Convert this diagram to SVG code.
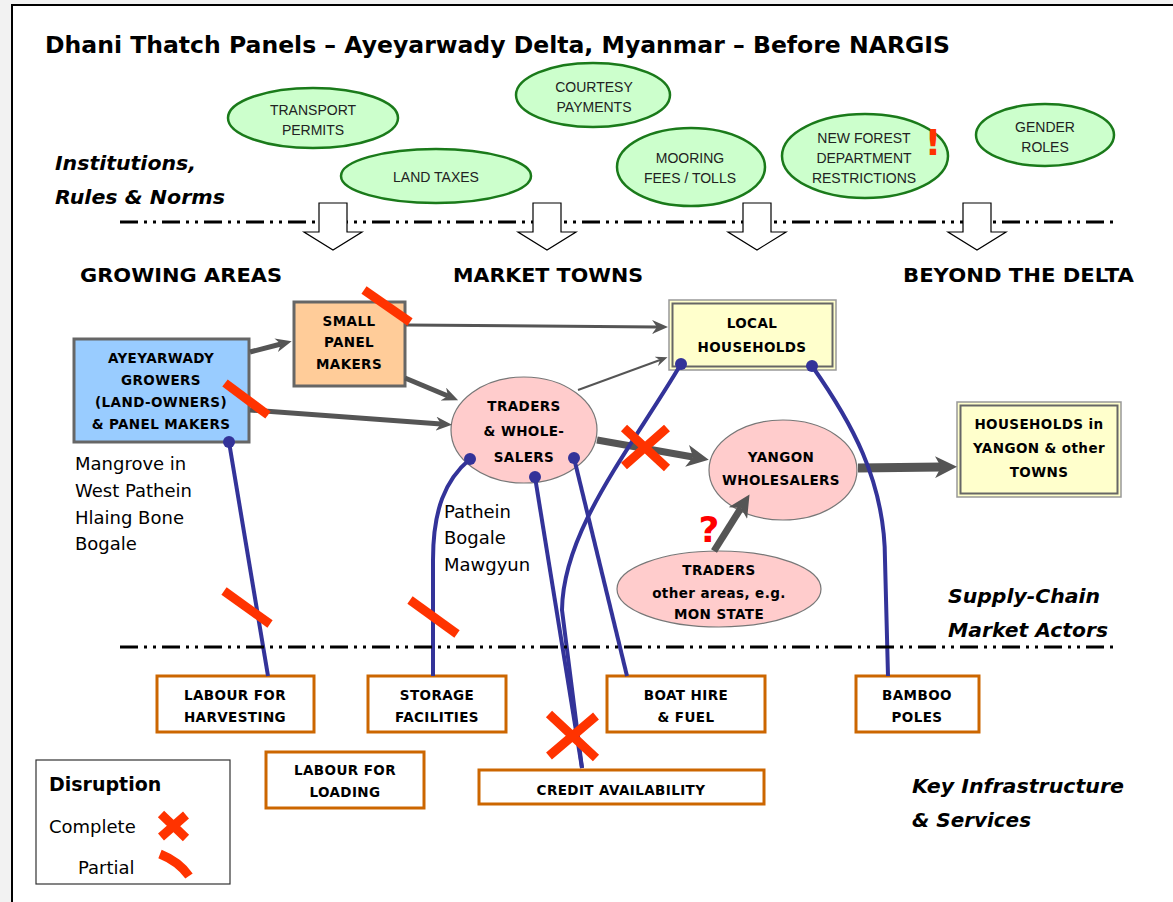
<svg xmlns="http://www.w3.org/2000/svg" width="1173" height="902" viewBox="0 0 1173 902">
<style>
.lbl{font-family:"DejaVu Sans",Verdana,sans-serif;font-weight:bold;font-size:13.5px;letter-spacing:0.4px;fill:#000;text-anchor:middle}
.glbl{font-family:"Liberation Sans",Arial,sans-serif;font-size:14px;fill:#222;text-anchor:middle}
.inst{fill:#ccffcc;stroke:#1a7a1a;stroke-width:2.5}
.hdr{font-family:"DejaVu Sans",Verdana,sans-serif;font-weight:bold;font-size:19px;fill:#000}
.sec{font-family:"DejaVu Sans",Verdana,sans-serif;font-weight:bold;font-style:italic;font-size:19px;fill:#000}
.place{font-family:"DejaVu Sans",Verdana,sans-serif;font-size:18px;fill:#000}
.dd{stroke:#000;stroke-width:3;fill:none;stroke-dasharray:18 6 3 6 3 6}
.harrow{fill:#fff;stroke:#000;stroke-width:1.2}
.svc{fill:#fff;stroke:#cc6600;stroke-width:3}
.flow{stroke:#555;fill:none}
.link{stroke:#333399;stroke-width:4;fill:none}
.dot{fill:#333399}
.mark{stroke:#ff3300;stroke-width:9;fill:none}
.pink{fill:#ffcccc;stroke:#777;stroke-width:1.2}
</style>
<defs>
<marker id="ah" viewBox="0 0 16 14" markerWidth="16" markerHeight="14" refX="5" refY="7" orient="auto" markerUnits="userSpaceOnUse"><path d="M0,0 L16,7 L0,14 L5,7 z" fill="#555"/></marker>
<marker id="ahS" viewBox="0 0 12 10" markerWidth="12" markerHeight="10" refX="4" refY="5" orient="auto" markerUnits="userSpaceOnUse"><path d="M0,0 L12,5 L0,10 L4,5 z" fill="#555"/></marker>
<marker id="ahB" viewBox="0 0 22 22" markerWidth="22" markerHeight="22" refX="6" refY="11" orient="auto" markerUnits="userSpaceOnUse"><path d="M0,0 L22,11 L0,22 L6,11 z" fill="#555"/></marker>
<g id="downArrow"><path class="harrow" d="M-14,-19 L14,-19 L14,10 L29,10 L0,28 L-29,10 L-14,10 z"/></g>
</defs>

<rect x="0" y="0" width="1173" height="902" fill="#f2f2f2"/>
<rect x="12" y="5" width="1170" height="910" fill="#fff" stroke="#000" stroke-width="2"/>

<text x="45" y="53" font-family="DejaVu Sans,Verdana,sans-serif" font-weight="bold" font-size="23" textLength="905" lengthAdjust="spacingAndGlyphs">Dhani Thatch Panels – Ayeyarwady Delta, Myanmar – Before NARGIS</text>

<g id="institutions">
<g id="inst-transport"><ellipse class="inst" cx="313" cy="118" rx="85" ry="30"/><text class="glbl" x="313" y="115">TRANSPORT</text><text class="glbl" x="313" y="135">PERMITS</text></g>
<g id="inst-landtaxes"><ellipse class="inst" cx="436" cy="176" rx="95" ry="27"/><text class="glbl" x="436" y="182">LAND TAXES</text></g>
<g id="inst-courtesy"><ellipse class="inst" cx="593" cy="95" rx="77" ry="32"/><text class="glbl" x="594" y="92">COURTESY</text><text class="glbl" x="594" y="112">PAYMENTS</text></g>
<g id="inst-mooring"><ellipse class="inst" cx="691" cy="167" rx="74" ry="39"/><text class="glbl" x="690" y="163">MOORING</text><text class="glbl" x="690" y="183">FEES / TOLLS</text></g>
<g id="inst-forest"><ellipse class="inst" cx="865" cy="156" rx="83" ry="42"/><text class="glbl" x="864" y="143">NEW FOREST</text><text class="glbl" x="864" y="163">DEPARTMENT</text><text class="glbl" x="864" y="183">RESTRICTIONS</text>
<text x="933" y="155" font-family="DejaVu Sans,Verdana,sans-serif" font-weight="bold" font-size="36" fill="#ff3300" text-anchor="middle">!</text></g>
<g id="inst-gender"><ellipse class="inst" cx="1045" cy="135" rx="69" ry="31"/><text class="glbl" x="1045" y="132">GENDER</text><text class="glbl" x="1045" y="152">ROLES</text></g>
</g>

<text class="sec" x="55" y="170" textLength="141" lengthAdjust="spacingAndGlyphs">Institutions,</text>
<text class="sec" x="55" y="204" textLength="170" lengthAdjust="spacingAndGlyphs">Rules &amp; Norms</text>

<line class="dd" x1="120" y1="222" x2="1113" y2="222"/>
<use href="#downArrow" x="333" y="222"/>
<use href="#downArrow" x="547" y="222"/>
<use href="#downArrow" x="757" y="222"/>
<use href="#downArrow" x="977" y="222"/>

<text class="hdr" x="80" y="282" textLength="202" lengthAdjust="spacingAndGlyphs">GROWING AREAS</text>
<text class="hdr" x="453" y="282" textLength="190" lengthAdjust="spacingAndGlyphs">MARKET TOWNS</text>
<text class="hdr" x="903" y="282" textLength="231" lengthAdjust="spacingAndGlyphs">BEYOND THE DELTA</text>

<g id="node-growers"><rect x="74" y="339" width="175" height="103" fill="#99ccff" stroke="#666" stroke-width="3"/>
<text class="lbl" x="161" y="363">AYEYARWADY</text><text class="lbl" x="161" y="385">GROWERS</text><text class="lbl" x="161" y="407">(LAND-OWNERS)</text><text class="lbl" x="161" y="429">&amp; PANEL MAKERS</text></g>

<g id="node-small"><rect x="294" y="302" width="111" height="84" fill="#ffcc99" stroke="#666" stroke-width="3"/>
<text class="lbl" x="349" y="326">SMALL</text><text class="lbl" x="349" y="347">PANEL</text><text class="lbl" x="349" y="369">MAKERS</text></g>

<g id="node-local"><rect x="669" y="300" width="167" height="70" fill="#ffffcc" stroke="#999" stroke-width="1.5"/><rect x="672.5" y="303.5" width="160" height="63" fill="none" stroke="#666" stroke-width="2"/>
<text class="lbl" x="752" y="328">LOCAL</text><text class="lbl" x="752" y="352">HOUSEHOLDS</text></g>

<g id="node-traders"><ellipse class="pink" cx="524" cy="430" rx="73" ry="53"/>
<text class="lbl" x="524" y="411">TRADERS</text><text class="lbl" x="524" y="436">&amp; WHOLE-</text><text class="lbl" x="524" y="462">SALERS</text></g>

<g id="node-yangon"><ellipse class="pink" cx="783" cy="470" rx="74" ry="50"/>
<text class="lbl" x="781" y="462">YANGON</text><text class="lbl" x="781" y="485">WHOLESALERS</text></g>

<g id="node-hhyangon"><rect x="957" y="402" width="164" height="95" fill="#ffffcc" stroke="#999" stroke-width="1.5"/><rect x="960.5" y="405.5" width="157" height="88" fill="none" stroke="#666" stroke-width="2"/>
<text class="lbl" x="1039" y="429">HOUSEHOLDS in</text><text class="lbl" x="1039" y="453">YANGON &amp; other</text><text class="lbl" x="1039" y="477">TOWNS</text></g>

<g id="node-othertraders"><ellipse class="pink" cx="719" cy="589" rx="102" ry="38"/>
<text class="lbl" x="719" y="575">TRADERS</text><text class="lbl" x="719" y="598" font-weight="normal">other areas, e.g.</text><text class="lbl" x="719" y="619">MON STATE</text></g>

<g id="svc-harvest"><rect class="svc" x="157" y="676" width="157" height="56"/><text class="lbl" x="235" y="700">LABOUR FOR</text><text class="lbl" x="235" y="722">HARVESTING</text></g>
<g id="svc-storage"><rect class="svc" x="368" y="676" width="138" height="56"/><text class="lbl" x="437" y="700">STORAGE</text><text class="lbl" x="437" y="722">FACILITIES</text></g>
<g id="svc-boat"><rect class="svc" x="607" y="676" width="158" height="56"/><text class="lbl" x="686" y="700">BOAT HIRE</text><text class="lbl" x="686" y="722">&amp; FUEL</text></g>
<g id="svc-bamboo"><rect class="svc" x="856" y="676" width="123" height="56"/><text class="lbl" x="917" y="700">BAMBOO</text><text class="lbl" x="917" y="722">POLES</text></g>
<g id="svc-loading"><rect class="svc" x="266" y="752" width="158" height="56"/><text class="lbl" x="345" y="775">LABOUR FOR</text><text class="lbl" x="345" y="797">LOADING</text></g>
<g id="svc-credit"><rect class="svc" x="479" y="770" width="285" height="34"/><text class="lbl" x="621" y="795">CREDIT AVAILABILITY</text></g>

<g id="connectors">
<line class="flow" stroke-width="5" x1="250" y1="352" x2="281" y2="344" marker-end="url(#ah)"/>
<line class="flow" stroke-width="5" x1="250" y1="410" x2="441" y2="424" marker-end="url(#ah)"/>
<line class="flow" stroke-width="5" x1="405" y1="378" x2="448" y2="396" marker-end="url(#ah)"/>
<line class="flow" stroke-width="3" x1="406" y1="325" x2="657" y2="327" marker-end="url(#ah)"/>
<line class="flow" stroke-width="2" x1="578" y1="390" x2="660" y2="360" marker-end="url(#ahS)"/>
<line class="flow" stroke-width="7" x1="597" y1="440" x2="693" y2="457" marker-end="url(#ahB)"/>
<line class="flow" stroke-width="9" x1="858" y1="468" x2="941" y2="467" marker-end="url(#ahB)"/>
<line class="flow" stroke-width="7" x1="714" y1="551" x2="741" y2="508" marker-end="url(#ahB)"/>

<path class="link" d="M229,442 L268,676"/>
<path class="link" d="M470,459 C445,480 433,510 433,560 L433,676"/>
<path class="link" d="M535,477 L582,768"/>
<path class="link" d="M574,458 L627,676"/>
<path class="link" d="M681,364 C630,450 563,530 562,610 L582,768"/>
<path class="link" d="M812,366 C850,420 885,480 885,560 L888,676"/>
<circle class="dot" cx="229" cy="442" r="6"/>
<circle class="dot" cx="470" cy="459" r="6"/>
<circle class="dot" cx="535" cy="477" r="6"/>
<circle class="dot" cx="574" cy="458" r="6"/>
<circle class="dot" cx="681" cy="364" r="6"/>
<circle class="dot" cx="812" cy="366" r="6"/>
</g>

<text x="709" y="542" font-family="DejaVu Sans,Verdana,sans-serif" font-weight="bold" font-size="36" fill="#ff0000" text-anchor="middle">?</text>

<text class="place" x="75" y="470">Mangrove in</text>
<text class="place" x="75" y="497">West Pathein</text>
<text class="place" x="75" y="524">Hlaing Bone</text>
<text class="place" x="75" y="550">Bogale</text>
<text class="place" x="444" y="518">Pathein</text>
<text class="place" x="444" y="544">Bogale</text>
<text class="place" x="444" y="571">Mawgyun</text>

<text class="sec" x="948" y="603" textLength="152" lengthAdjust="spacingAndGlyphs">Supply-Chain</text>
<text class="sec" x="948" y="637" textLength="160" lengthAdjust="spacingAndGlyphs">Market Actors</text>

<line class="dd" x1="120" y1="647" x2="1113" y2="647"/>

<g id="disruptions">
<path class="mark" d="M364,290 L410,322"/>
<path class="mark" d="M225,383 L268,415"/>
<path class="mark" d="M224,591 L270,624"/>
<path class="mark" d="M410,600 L457,634"/>
<path class="mark" d="M624,428 L667,468 M624,466 L667,428"/>
<path class="mark" d="M549,714 L596,758 M549,756 L596,716"/>
</g>

<text class="sec" x="912" y="793" textLength="212" lengthAdjust="spacingAndGlyphs">Key Infrastructure</text>
<text class="sec" x="912" y="827" textLength="119" lengthAdjust="spacingAndGlyphs">&amp; Services</text>

<g id="legend">
<rect x="36" y="760" width="194" height="124" fill="#fff" stroke="#333" stroke-width="1.2"/>
<text x="49" y="791" font-family="DejaVu Sans,Verdana,sans-serif" font-weight="bold" font-size="19">Disruption</text>
<text x="49" y="833" font-family="DejaVu Sans,Verdana,sans-serif" font-size="18">Complete</text>
<path class="mark" stroke-width="7" d="M161,814 L186,838 M161,837 L186,815"/>
<text x="78" y="874" font-family="DejaVu Sans,Verdana,sans-serif" font-size="18">Partial</text>
<path class="mark" stroke-width="7" d="M160,854 C170,858 182,866 189,876"/>
</g>
</svg>
